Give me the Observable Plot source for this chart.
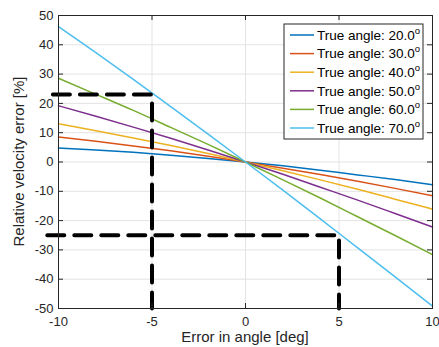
<!DOCTYPE html>
<html>
<head>
<meta charset="utf-8">
<script src="https://cdn.jsdelivr.net/npm/d3@7"></script>
<script src="https://cdn.jsdelivr.net/npm/@observablehq/plot@0.6"></script>
<style>
  html, body { margin: 0; padding: 0; background: #fff; }
</style>
</head>
<body>
<div id="chart"></div>
<script>
// ---- data ----
const angleErrors = [-10, -8, -6, -4, -2, 0, 2, 4, 6, 8, 10];
const trueAngles = [20, 30, 40, 50, 60, 70];
const err20 = [4.8, 4.1, 3.3, 2.3, 1.2, 0, -1.3, -2.8, -4.4, -6.0, -7.8];
const err30 = [8.5, 7.1, 5.5, 3.8, 2.0, 0, -2.1, -4.3, -6.6, -9.0, -11.5];
const err40 = [13.1, 10.7, 8.2, 5.6, 2.9, 0, -3.0, -6.1, -9.3, -12.7, -16.1];
const err50 = [19.2, 15.6, 11.9, 8.1, 4.1, 0, -4.2, -8.6, -13.0, -17.6, -22.2];
const err60 = [28.6, 23.1, 17.6, 11.8, 6.0, 0, -6.1, -12.3, -18.7, -25.1, -31.6];
const err70 = [46.2, 37.3, 28.2, 18.9, 9.5, 0, -9.6, -19.4, -29.3, -39.2, -49.2];
const seriesColors = ["#0072BD", "#D95319", "#EDB120", "#7E2F8E", "#77AC30", "#4DBEEE"];
const xTicks = [-10, -5, 0, 5, 10];
const yTicks = [-50, -40, -30, -20, -10, 0, 10, 20, 30, 40, 50];
// dashed guide lines: start x, corner x, corner y
const guideUpper = {xStart: -10.3, x: -5, y: 23};
const guideLower = {xStart: -10.6, x: 5, y: -25};

const allSeries = [err20, err30, err40, err50, err60, err70];
const rows = [];
allSeries.forEach((vals, i) => {
  vals.forEach((v, j) => rows.push({angle: trueAngles[i], x: angleErrors[j], y: v}));
});
const yMin = yTicks[0], yMax = yTicks[yTicks.length - 1];
const guidePath = g => [
  {x: g.xStart, y: g.y}, {x: g.x, y: g.y}, {x: g.x, y: yMin}
];

const W = 439, H = 347, mL = 58, mR = 7, mT = 15, mB = 39;
const plotW = W - mL - mR, plotH = H - mT - mB;
const tickLen = 5;
const ink = "#262626";

const chart = Plot.plot({
  width: W, height: H,
  marginLeft: mL, marginRight: mR, marginTop: mT, marginBottom: mB,
  x: {domain: [xTicks[0], xTicks[xTicks.length - 1]], label: null},
  y: {domain: [yMin, yMax], label: null},
  color: {type: "ordinal", domain: trueAngles, range: seriesColors},
  style: {fontFamily: "'Liberation Sans', Arial, Helvetica, sans-serif", fontSize: "13px", color: ink, background: "#fff"},
  marks: [
    Plot.gridX(xTicks, {stroke: "#e3e3e3", strokeOpacity: 1}),
    Plot.gridY(yTicks, {stroke: "#e3e3e3", strokeOpacity: 1}),
    Plot.line(rows, {x: "x", y: "y", z: "angle", stroke: "angle", strokeWidth: 1.5, curve: "natural"}),
    Plot.line(guidePath(guideUpper), {x: "x", y: "y", stroke: "#000", strokeWidth: 4, strokeDasharray: "17,10", strokeLinejoin: "miter"}),
    Plot.line(guidePath(guideLower), {x: "x", y: "y", stroke: "#000", strokeWidth: 4, strokeDasharray: "17,10", strokeLinejoin: "miter"}),
    Plot.frame({stroke: ink, strokeWidth: 1}),
    Plot.ruleX(xTicks, {stroke: ink, insetTop: plotH - tickLen}),
    Plot.ruleX(xTicks, {stroke: ink, insetBottom: plotH - tickLen}),
    Plot.ruleY(yTicks, {stroke: ink, insetRight: plotW - tickLen}),
    Plot.ruleY(yTicks, {stroke: ink, insetLeft: plotW - tickLen}),
    Plot.axisX(xTicks, {tickSize: 0, tickPadding: 8, tickFormat: d => String(d), fontSize: 13, fill: ink, label: null}),
    Plot.axisY(yTicks, {tickSize: 0, tickPadding: 5, tickFormat: d => String(d), fontSize: 13, fill: ink, label: null})
  ]
});
document.getElementById("chart").appendChild(chart);

const svg = d3.select(chart);
// axis labels
svg.append("text")
  .attr("x", mL + plotW / 2).attr("y", 342)
  .attr("text-anchor", "middle")
  .attr("font-size", 15).attr("fill", ink)
  .text("Error in angle [deg]");
svg.append("text")
  .attr("transform", `translate(24,${mT + plotH / 2}) rotate(-90)`)
  .attr("text-anchor", "middle")
  .attr("font-size", 15).attr("fill", ink)
  .text("Relative velocity error [%]");

// legend
const lg = svg.append("g").attr("text-anchor", "start");
const lx = 284, ly = 24, lw = 139, lh = 115, rowH = 18.6;
lg.append("rect").attr("x", lx).attr("y", ly).attr("width", lw).attr("height", lh)
  .attr("fill", "#fff").attr("stroke", ink).attr("stroke-width", 1);
trueAngles.forEach((a, i) => {
  const cy = ly + 11 + i * rowH;
  lg.append("line").attr("x1", lx + 6).attr("x2", lx + 30).attr("y1", cy).attr("y2", cy)
    .attr("stroke", seriesColors[i]).attr("stroke-width", 1.5);
  const t = lg.append("text").attr("x", lx + 33).attr("y", cy + 4.7)
    .attr("text-anchor", "start")
    .attr("font-size", 13.5).attr("fill", "#000");
  t.append("tspan").text(`True angle: ${a.toFixed(1)}`);
  t.append("tspan").attr("font-size", 9.5).attr("dy", -6).text("o");
});
</script>
</body>
</html>
